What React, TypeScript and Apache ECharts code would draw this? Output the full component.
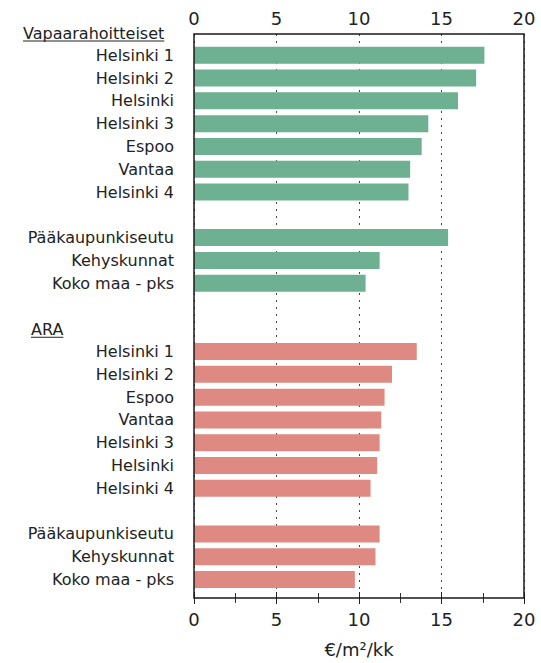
import React, { useEffect, useRef } from "react";
import * as echarts from "echarts";

const FONT = '"DejaVu Sans", Verdana, sans-serif';
const TEXT = "#222";

const headerFree = "Vapaarahoitteiset";
const headerAra = "ARA";
const freeCities = ["Helsinki 1", "Helsinki 2", "Helsinki", "Helsinki 3", "Espoo", "Vantaa", "Helsinki 4"];
const freeCityValues = [17.6, 17.1, 16.0, 14.2, 13.8, 13.1, 13.0];
const araCities = ["Helsinki 1", "Helsinki 2", "Espoo", "Vantaa", "Helsinki 3", "Helsinki", "Helsinki 4"];
const araCityValues = [13.5, 12.0, 11.55, 11.35, 11.25, 11.1, 10.7];
const regions = ["Pääkaupunkiseutu", "Kehyskunnat", "Koko maa - pks"];
const freeRegionValues = [15.4, 11.25, 10.4];
const araRegionValues = [11.25, 11.0, 9.75];
const xTicks = [0, 5, 10, 15, 20];
const unitLabel = "€/m²/kk";

// Build row list (header, cities, blank, regions, blank, header, cities, blank, regions)
const categories: string[] = [
  headerFree, ...freeCities, "", ...regions, "",
  headerAra, ...araCities, "", ...regions,
];
const greenData: (number | string)[] = [
  "-", ...freeCityValues, "-", ...freeRegionValues, "-",
  "-", ...araCities.map(() => "-"), "-", ...regions.map(() => "-"),
];
const redData: (number | string)[] = [
  "-", ...freeCities.map(() => "-"), "-", ...regions.map(() => "-"), "-",
  "-", ...araCityValues, "-", ...araRegionValues,
];
const headerRows = [0, categories.indexOf(headerAra)];

export default function App() {
  const ref = useRef<HTMLDivElement>(null);
  useEffect(() => {
    document.body.style.margin = "0";
    if (!ref.current) return;
    const chart = echarts.init(ref.current, undefined, { renderer: "svg" });
    const W = 541, H = 663;
    const plotL = 194, plotR = 524, plotT = 34, plotB = 600;
    const rowTop = 32.5, rowStep = 22.79;
    const gTop = rowTop - rowStep / 2;
    const gBottom = gTop + rowStep * categories.length;

    const axisCommon = {
      type: "value" as const,
      min: xTicks[0],
      max: xTicks[xTicks.length - 1],
      interval: 5,
      axisLine: { show: false },
      axisTick: { show: true, inside: true, length: 6, lineStyle: { color: "#222", width: 1 } },
      minorTick: { show: true, splitNumber: 2, length: 5, lineStyle: { color: "#333", width: 1 } },
      axisLabel: { color: TEXT, fontFamily: FONT, fontSize: 18 },
    };

    chart.setOption({
      animation: false,
      backgroundColor: "#fff",
      grid: [
        { left: plotL, right: W - plotR, top: plotT, bottom: H - plotB, show: true, borderColor: "#1a1a1a", borderWidth: 1.5, backgroundColor: "transparent", z: 10 },
        { left: plotL, right: W - plotR, top: gTop, bottom: H - gBottom },
      ],
      xAxis: [
        {
          ...axisCommon, gridIndex: 0, position: "top",
          axisLabel: { ...axisCommon.axisLabel, margin: 7 },
          splitLine: { show: true, lineStyle: { type: [2, 5], color: "#444", width: 1 } },
        },
        {
          ...axisCommon, gridIndex: 0, position: "bottom",
          axisLabel: { ...axisCommon.axisLabel, margin: 12 },
          splitLine: { show: false },
          name: unitLabel, nameLocation: "middle", nameGap: 42,
          nameTextStyle: { color: TEXT, fontFamily: FONT, fontSize: 18 },
        },
        { type: "value", gridIndex: 1, min: 0, max: 20, show: false },
      ],
      yAxis: [
        { type: "value", gridIndex: 0, show: false, min: 0, max: 1 },
        {
          type: "category", gridIndex: 1, inverse: true, data: categories,
          axisLine: { show: false }, axisTick: { show: false }, splitLine: { show: false },
          axisLabel: {
            interval: 0, margin: 20, color: TEXT, fontFamily: FONT, fontSize: 16,
            formatter: (v: string, i: number) => (headerRows.includes(i) ? "" : v),
          },
        },
      ],
      series: [
        { type: "bar", xAxisIndex: 2, yAxisIndex: 1, stack: "s", data: greenData, barWidth: 17, itemStyle: { color: "#6db192" } },
        { type: "bar", xAxisIndex: 2, yAxisIndex: 1, stack: "s", data: redData, barWidth: 17, itemStyle: { color: "#de8a82" } },
      ],
    });

    // Headers with underline, positioned through the category axis
    const ctx = document.createElement("canvas").getContext("2d")!;
    ctx.font = `16px ${FONT}`;
    const headerX = [23, 31];
    const graphics: any[] = [];
    headerRows.forEach((row, k) => {
      const y = chart.convertToPixel({ yAxisIndex: 1 } as any, row) as unknown as number;
      const label = categories[row];
      const w = ctx.measureText(label).width;
      graphics.push({
        type: "text", x: headerX[k], y: y + 0.5,
        style: { text: label, font: `16px ${FONT}`, fill: TEXT, verticalAlign: "middle", align: "left" },
      });
      graphics.push({
        type: "line", shape: { x1: headerX[k], y1: y + 8.5, x2: headerX[k] + w, y2: y + 8.5 },
        style: { stroke: TEXT, lineWidth: 1 },
      });
    });
    chart.setOption({ graphic: graphics });

    return () => chart.dispose();
  }, []);
  return <div ref={ref} style={{ width: 541, height: 663 }} />;
}
